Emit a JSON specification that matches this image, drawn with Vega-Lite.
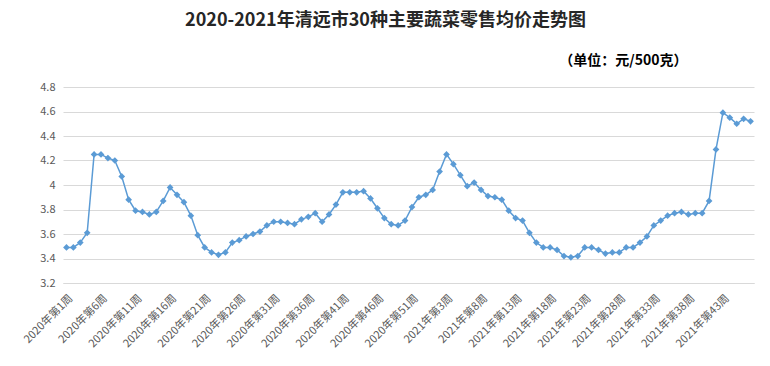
{
  "$schema": "https://vega.github.io/schema/vega-lite/v6.json",
  "autosize": {"type": "none"},
  "padding": {"left": 63, "top": 87, "right": 16, "bottom": 83},
  "width": 691,
  "height": 196,
  "background": "white",
  "title": {
    "text": "2020-2021年清远市30种主要蔬菜零售均价走势图",
    "font": "Noto Sans CJK SC",
    "fontSize": 18,
    "fontWeight": "bold",
    "color": "#262626",
    "anchor": "middle",
    "dx": -23,
    "offset": 23
  },
  "data": {
    "values": [
      {"week": "2020年第1周", "price": 3.49},
      {"week": "2020年第2周", "price": 3.49},
      {"week": "2020年第3周", "price": 3.53},
      {"week": "2020年第4周", "price": 3.61},
      {"week": "2020年第5周", "price": 4.25},
      {"week": "2020年第6周", "price": 4.25},
      {"week": "2020年第7周", "price": 4.22},
      {"week": "2020年第8周", "price": 4.20},
      {"week": "2020年第9周", "price": 4.07},
      {"week": "2020年第10周", "price": 3.88},
      {"week": "2020年第11周", "price": 3.79},
      {"week": "2020年第12周", "price": 3.78},
      {"week": "2020年第13周", "price": 3.76},
      {"week": "2020年第14周", "price": 3.78},
      {"week": "2020年第15周", "price": 3.87},
      {"week": "2020年第16周", "price": 3.98},
      {"week": "2020年第17周", "price": 3.92},
      {"week": "2020年第18周", "price": 3.86},
      {"week": "2020年第19周", "price": 3.75},
      {"week": "2020年第20周", "price": 3.59},
      {"week": "2020年第21周", "price": 3.49},
      {"week": "2020年第22周", "price": 3.45},
      {"week": "2020年第23周", "price": 3.43},
      {"week": "2020年第24周", "price": 3.45},
      {"week": "2020年第25周", "price": 3.53},
      {"week": "2020年第26周", "price": 3.55},
      {"week": "2020年第27周", "price": 3.58},
      {"week": "2020年第28周", "price": 3.60},
      {"week": "2020年第29周", "price": 3.62},
      {"week": "2020年第30周", "price": 3.67},
      {"week": "2020年第31周", "price": 3.70},
      {"week": "2020年第32周", "price": 3.70},
      {"week": "2020年第33周", "price": 3.69},
      {"week": "2020年第34周", "price": 3.68},
      {"week": "2020年第35周", "price": 3.72},
      {"week": "2020年第36周", "price": 3.74},
      {"week": "2020年第37周", "price": 3.77},
      {"week": "2020年第38周", "price": 3.70},
      {"week": "2020年第39周", "price": 3.76},
      {"week": "2020年第40周", "price": 3.84},
      {"week": "2020年第41周", "price": 3.94},
      {"week": "2020年第42周", "price": 3.94},
      {"week": "2020年第43周", "price": 3.94},
      {"week": "2020年第44周", "price": 3.95},
      {"week": "2020年第45周", "price": 3.89},
      {"week": "2020年第46周", "price": 3.81},
      {"week": "2020年第47周", "price": 3.73},
      {"week": "2020年第48周", "price": 3.68},
      {"week": "2020年第49周", "price": 3.67},
      {"week": "2020年第50周", "price": 3.71},
      {"week": "2020年第51周", "price": 3.82},
      {"week": "2020年第52周", "price": 3.90},
      {"week": "2020年第53周", "price": 3.92},
      {"week": "2021年第1周", "price": 3.96},
      {"week": "2021年第2周", "price": 4.11},
      {"week": "2021年第3周", "price": 4.25},
      {"week": "2021年第4周", "price": 4.17},
      {"week": "2021年第5周", "price": 4.08},
      {"week": "2021年第6周", "price": 3.99},
      {"week": "2021年第7周", "price": 4.02},
      {"week": "2021年第8周", "price": 3.96},
      {"week": "2021年第9周", "price": 3.91},
      {"week": "2021年第10周", "price": 3.90},
      {"week": "2021年第11周", "price": 3.88},
      {"week": "2021年第12周", "price": 3.79},
      {"week": "2021年第13周", "price": 3.73},
      {"week": "2021年第14周", "price": 3.71},
      {"week": "2021年第15周", "price": 3.61},
      {"week": "2021年第16周", "price": 3.53},
      {"week": "2021年第17周", "price": 3.49},
      {"week": "2021年第18周", "price": 3.49},
      {"week": "2021年第19周", "price": 3.47},
      {"week": "2021年第20周", "price": 3.42},
      {"week": "2021年第21周", "price": 3.41},
      {"week": "2021年第22周", "price": 3.42},
      {"week": "2021年第23周", "price": 3.49},
      {"week": "2021年第24周", "price": 3.49},
      {"week": "2021年第25周", "price": 3.47},
      {"week": "2021年第26周", "price": 3.44},
      {"week": "2021年第27周", "price": 3.45},
      {"week": "2021年第28周", "price": 3.45},
      {"week": "2021年第29周", "price": 3.49},
      {"week": "2021年第30周", "price": 3.49},
      {"week": "2021年第31周", "price": 3.53},
      {"week": "2021年第32周", "price": 3.58},
      {"week": "2021年第33周", "price": 3.67},
      {"week": "2021年第34周", "price": 3.71},
      {"week": "2021年第35周", "price": 3.75},
      {"week": "2021年第36周", "price": 3.77},
      {"week": "2021年第37周", "price": 3.78},
      {"week": "2021年第38周", "price": 3.76},
      {"week": "2021年第39周", "price": 3.77},
      {"week": "2021年第40周", "price": 3.77},
      {"week": "2021年第41周", "price": 3.87},
      {"week": "2021年第42周", "price": 4.29},
      {"week": "2021年第43周", "price": 4.59},
      {"week": "2021年第44周", "price": 4.55},
      {"week": "2021年第45周", "price": 4.50},
      {"week": "2021年第46周", "price": 4.54},
      {"week": "2021年第47周", "price": 4.52}
    ]
  },
  "encoding": {
    "x": {
      "field": "week",
      "type": "ordinal",
      "sort": null,
      "scale": {"type": "point", "padding": 0.5},
      "axis": {
        "values": ["2020年第1周", "2020年第6周", "2020年第11周", "2020年第16周", "2020年第21周", "2020年第26周", "2020年第31周", "2020年第36周", "2020年第41周", "2020年第46周", "2020年第51周", "2021年第3周", "2021年第8周", "2021年第13周", "2021年第18周", "2021年第23周", "2021年第28周", "2021年第33周", "2021年第38周", "2021年第43周"],
        "labelAngle": -45,
        "labelFont": "Noto Sans CJK SC",
        "labelFontSize": 11,
        "labelColor": "#595959",
        "labelPadding": 9,
        "ticks": false,
        "domain": true,
        "domainColor": "#D9D9D9",
        "grid": false,
        "title": "（单位：元/500克）",
        "titleFont": "Noto Sans CJK SC",
        "titleFontSize": 14,
        "titleFontWeight": "bold",
        "titleColor": "#000000",
        "titleAngle": 0,
        "titleAlign": "right",
        "titleBaseline": "middle",
        "titleAnchor": null,
        "titleX": 624,
        "titleY": -223
      }
    },
    "y": {
      "field": "price",
      "type": "quantitative",
      "scale": {"domain": [3.2, 4.8], "zero": false, "nice": false},
      "axis": {
        "values": [3.2, 3.4, 3.6, 3.8, 4.0, 4.2, 4.4, 4.6, 4.8],
        "format": ".1~f",
        "labelFont": "Noto Sans CJK SC",
        "labelFontSize": 11,
        "labelColor": "#595959",
        "labelPadding": 8,
        "ticks": false,
        "domain": false,
        "gridColor": "#D9D9D9",
        "gridWidth": 1,
        "title": null
      }
    }
  },
  "layer": [
    {"mark": {"type": "line", "color": "#5B9BD5", "strokeWidth": 1.5}},
    {"mark": {"type": "point", "shape": "diamond", "filled": true, "opacity": 1, "color": "#5B9BD5", "size": 45}}
  ],
  "config": {"view": {"stroke": null}}
}
